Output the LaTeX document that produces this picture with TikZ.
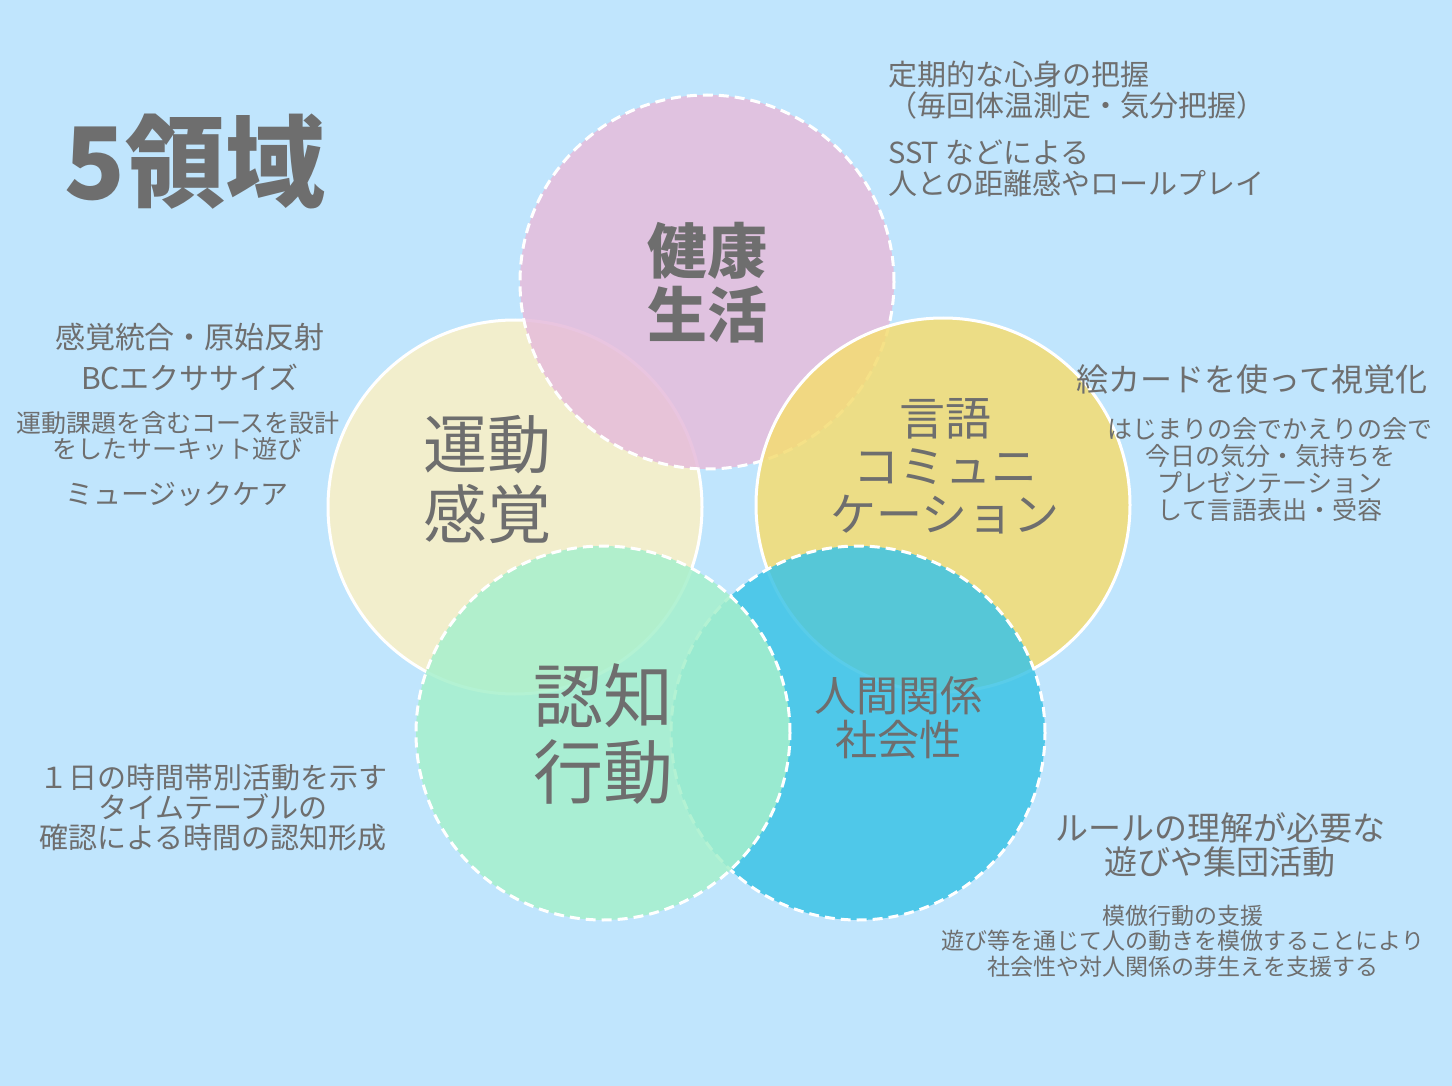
\documentclass[tikz,border=0pt]{standalone}
\usepackage{fontspec}
\setmainfont{Noto Sans CJK JP}
\begin{document}
\begin{tikzpicture}[x=1pt,y=-1pt,
  circ/.style={line width=3pt,draw=white,fill opacity=0.85},
  dsh/.style={circ,dash pattern=on 10pt off 6pt},
  txt/.style={text=tgray,align=center,inner sep=0pt},
  lt/.style={text=tgray,align=left,inner sep=0pt,anchor=west}]
\definecolor{bg}{HTML}{C0E5FD}
\definecolor{tgray}{HTML}{6E6E6E}
\definecolor{cpink}{HTML}{E6BCDB}
\definecolor{cly}{HTML}{FBF0C4}
\definecolor{cyel}{HTML}{F4DC72}
\definecolor{ccyan}{HTML}{3CC4E6}
\definecolor{cgreen}{HTML}{A6F0CC}
\fill[bg] (0,0) rectangle (1452,1086);
\useasboundingbox (0,0) rectangle (1452,1086);
\node[circ,circle,minimum size=374pt,fill=cly] (kan) at (515,507) {};
\node[dsh,circle,minimum size=374pt,fill=cpink] (ken) at (707,282) {};
\node[circ,circle,minimum size=374pt,fill=cyel] (gen) at (943,505) {};
\node[dsh,circle,minimum size=374pt,fill=ccyan] (nin) at (858,733) {};
\node[dsh,circle,minimum size=374pt,fill=cgreen] (cog) at (603,733) {};
\node[txt,font=\fontsize{100}{110}\selectfont\bfseries] (title) at (195,162) {5領域};
\node[txt,font=\fontsize{60}{64}\selectfont\bfseries] (t1) at (707,283) {健康\\生活};
\node[txt,font=\fontsize{64}{70}\selectfont] (t2) at (487,480) {運動\\感覚};
\node[txt,font=\fontsize{46}{48}\selectfont] (t3) at (945,466) {言語\\コミュニ\\ケーション};
\node[txt,font=\fontsize{42}{44}\selectfont] (t4) at (898,718) {人間関係\\社会性};
\node[txt,font=\fontsize{70}{76}\selectfont] (t5) at (603,734) {認知\\行動};
\node[lt,font=\fontsize{29}{31}\selectfont] (a1) at (888,90) {定期的な心身の把握\\（毎回体温測定・気分把握）};
\node[lt,font=\fontsize{29}{31}\selectfont] (a2) at (888,168) {SST などによる\\人との距離感やロールプレイ};
\node[txt,font=\fontsize{30}{41}\selectfont] (b1) at (190,357) {感覚統合・原始反射\\BCエクササイズ};
\node[txt,font=\fontsize{25}{26}\selectfont] (b2) at (178,436) {運動課題を含むコースを設計\\をしたサーキット遊び};
\node[txt,font=\fontsize{28}{30}\selectfont] (b3) at (177,494) {ミュージックケア};
\node[txt,font=\fontsize{32}{34}\selectfont] (c1) at (1252,379) {絵カードを使って視覚化};
\node[txt,font=\fontsize{25}{27}\selectfont] (c2) at (1270,470) {はじまりの会でかえりの会で\\今日の気分・気持ちを\\プレゼンテーション\\して言語表出・受容};
\node[txt,font=\fontsize{29}{30}\selectfont] (d1) at (213,808) {１日の時間帯別活動を示す\\タイムテーブルの\\確認による時間の認知形成};
\node[txt,font=\fontsize{33}{34}\selectfont] (e1) at (1220,845) {ルールの理解が必要な\\遊びや集団活動};
\node[txt,font=\fontsize{23}{25.5}\selectfont] (e2) at (1183,941) {模倣行動の支援\\遊び等を通じて人の動きを模倣することにより\\社会性や対人関係の芽生えを支援する};
\end{tikzpicture}
\end{document}
